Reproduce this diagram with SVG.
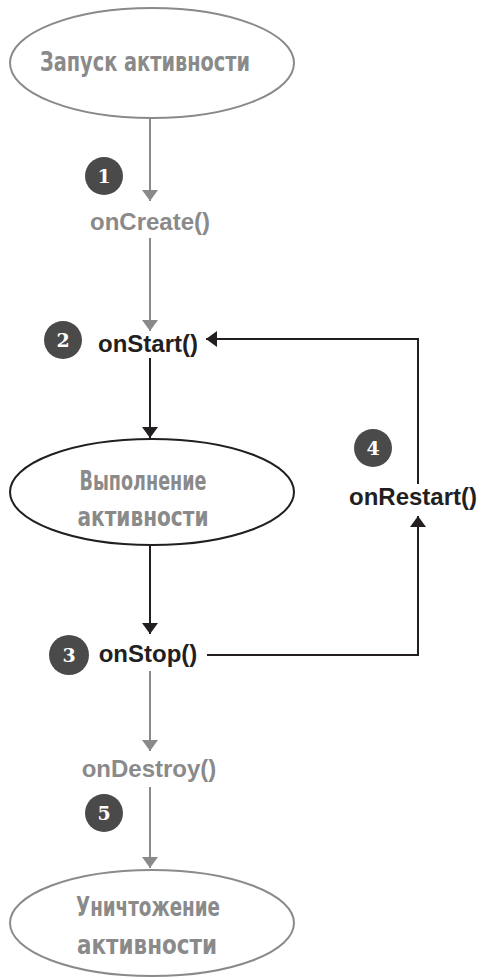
<svg xmlns="http://www.w3.org/2000/svg" width="479" height="978" viewBox="0 0 479 978">
<style>
.bg{fill:#fff}
.ell-g{fill:#fff;stroke:#8a8a8a;stroke-width:2}
.ell-b{fill:#fff;stroke:#231f20;stroke-width:2}
.hand{font-family:"DejaVu Sans Condensed","DejaVu Sans","Liberation Sans",sans-serif;font-weight:bold;font-size:26px;fill:#8a8a8a;text-anchor:middle}
.lbl{font-family:"Liberation Sans",Arial,sans-serif;font-weight:bold;font-size:24px;text-anchor:middle}
.gray{fill:#8a8a8a}
.blk{fill:#231f20}
.badge{fill:#4a4a4a}
.num{font-family:"DejaVu Serif","Liberation Serif",serif;font-weight:bold;font-size:19px;fill:#fff;text-anchor:middle}
.cg{stroke:#8a8a8a;stroke-width:2;fill:none}
.cb{stroke:#231f20;stroke-width:2;fill:none}
</style>
<defs>
<marker id="ag" markerWidth="11" markerHeight="16" refX="11" refY="8" orient="auto" markerUnits="userSpaceOnUse"><path d="M0,0 L11,8 L0,16 Z" fill="#8a8a8a"/></marker>
<marker id="ab" markerWidth="11" markerHeight="16" refX="11" refY="8" orient="auto" markerUnits="userSpaceOnUse"><path d="M0,0 L11,8 L0,16 Z" fill="#231f20"/></marker>
</defs>
<rect class="bg" width="479" height="978"/>
<g id="connectors">
<line class="cg" x1="150" y1="118" x2="150" y2="201" marker-end="url(#ag)"/>
<line class="cg" x1="150" y1="238" x2="150" y2="331" marker-end="url(#ag)"/>
<line class="cb" x1="150" y1="358" x2="150" y2="438" marker-end="url(#ab)"/>
<line class="cb" x1="150" y1="545" x2="150" y2="634" marker-end="url(#ab)"/>
<polyline class="cb" points="207,655 418,655 418,516" marker-end="url(#ab)"/>
<polyline class="cb" points="418,484 418,339 206,339" marker-end="url(#ab)"/>
<line class="cg" x1="150" y1="671" x2="150" y2="751" marker-end="url(#ag)"/>
<line class="cg" x1="150" y1="787" x2="150" y2="868" marker-end="url(#ag)"/>
</g>
<g id="start">
<ellipse class="ell-g" cx="152" cy="63" rx="142" ry="55"/>
<text class="hand" x="145" y="71" textLength="210" lengthAdjust="spacingAndGlyphs">Запуск активности</text>
</g>
<g id="badge1"><circle class="badge" cx="104" cy="176" r="19"/><text class="num" x="104" y="183">1</text></g>
<g id="onCreate"><text class="lbl gray" x="150" y="230">onCreate()</text></g>
<g id="badge2"><circle class="badge" cx="63" cy="340" r="19"/><text class="num" x="63" y="347">2</text></g>
<g id="onStart"><text class="lbl blk" x="148" y="352">onStart()</text></g>
<g id="running">
<ellipse class="ell-b" cx="152" cy="492" rx="142" ry="53"/>
<text class="hand" x="143" y="490" textLength="127" lengthAdjust="spacingAndGlyphs">Выполнение</text>
<text class="hand" x="143" y="526" textLength="131" lengthAdjust="spacingAndGlyphs">активности</text>
</g>
<g id="badge4"><circle class="badge" cx="373" cy="448" r="19"/><text class="num" x="373" y="455">4</text></g>
<g id="onRestart"><text class="lbl blk" x="413" y="505">onRestart()</text></g>
<g id="badge3"><circle class="badge" cx="69" cy="655" r="20"/><text class="num" x="69" y="662">3</text></g>
<g id="onStop"><text class="lbl blk" x="148" y="662">onStop()</text></g>
<g id="onDestroy"><text class="lbl gray" x="149" y="777">onDestroy()</text></g>
<g id="badge5"><circle class="badge" cx="104" cy="813" r="19"/><text class="num" x="104" y="820">5</text></g>
<g id="destroyed">
<ellipse class="ell-g" cx="152" cy="923" rx="142" ry="53"/>
<text class="hand" x="148" y="916" textLength="144" lengthAdjust="spacingAndGlyphs">Уничтожение</text>
<text class="hand" x="147" y="954" textLength="140" lengthAdjust="spacingAndGlyphs">активности</text>
</g>
</svg>
